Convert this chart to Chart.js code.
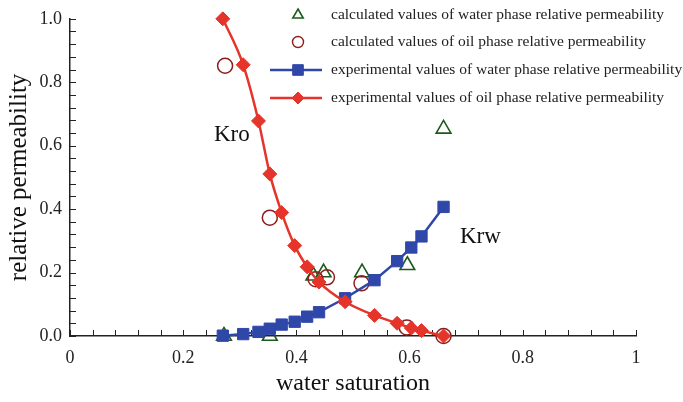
<!DOCTYPE html>
<html>
<head>
<meta charset="utf-8">
<script src="https://cdn.jsdelivr.net/npm/chart.js@4.4.1/dist/chart.umd.min.js"></script>
<style>
  html, body { margin: 0; padding: 0; background: #fff; }
  #wrap { width: 683px; height: 402px; position: relative; }
</style>
</head>
<body>
<div id="wrap"><canvas id="grafico" width="683" height="402"></canvas></div>
<script>
// --- DADOS ---
const expSw  = [0.270, 0.306, 0.333, 0.353, 0.374, 0.397, 0.419, 0.440, 0.486, 0.538, 0.578, 0.603, 0.621, 0.660];
const expKro = [1.000, 0.855, 0.678, 0.511, 0.389, 0.285, 0.218, 0.170, 0.108, 0.065, 0.040, 0.025, 0.017, 0.000];
const expKrw = [0.001, 0.006, 0.013, 0.023, 0.036, 0.045, 0.061, 0.075, 0.119, 0.176, 0.236, 0.279, 0.314, 0.407];

const calcWaterSw = [0.272, 0.353, 0.430, 0.448, 0.516, 0.596, 0.660];
const calcKrw     = [0.000, 0.000, 0.190, 0.200, 0.200, 0.223, 0.653];

const calcOilSw = [0.274, 0.353, 0.434, 0.454, 0.515, 0.595, 0.660];
const calcKro   = [0.852, 0.373, 0.179, 0.185, 0.166, 0.027, 0.000];

const xTicks = [0, 0.2, 0.4, 0.6, 0.8, 1];
const yTicks = [0, 0.2, 0.4, 0.6, 0.8, 1.0];

const legendLabels = [
    'calculated values of water phase relative permeability',
    'calculated values of oil phase relative permeability',
    'experimental values of water phase relative permeability',
    'experimental values of oil phase relative permeability'
];

const pares = (xs, ys) => xs.map((x, i) => ({ x, y: ys[i] }));

const SERIF = '"Liberation Serif", "DejaVu Serif", serif';
const RED = '#e5342a', BLUE = '#2f47a9', GREEN = '#1d5b1d', DARKRED = '#8e1d1d';
const isMajor = v => Math.abs(v * 5 - Math.round(v * 5)) < 1e-6;

// ticks para dentro + rótulos Kro/Krw
const eixosPlugin = {
    id: 'eixos',
    beforeDatasetsDraw(chart) {
        const { ctx, scales: { x, y } } = chart;
        ctx.save();
        ctx.strokeStyle = '#222';
        ctx.lineWidth = 1;
        x.ticks.forEach(t => {
            const px = Math.round(x.getPixelForValue(t.value)) + 0.5;
            ctx.beginPath(); ctx.moveTo(px, y.bottom); ctx.lineTo(px, y.bottom - 6); ctx.stroke();
        });
        y.ticks.forEach(t => {
            const py = Math.round(y.getPixelForValue(t.value)) + 0.5;
            ctx.beginPath(); ctx.moveTo(x.left, py); ctx.lineTo(x.left + 6, py); ctx.stroke();
        });
        ctx.fillStyle = '#111';
        ctx.font = '23px ' + SERIF;
        ctx.textAlign = 'center';
        ctx.textBaseline = 'middle';
        ctx.fillText('Kro', x.getPixelForValue(0.286), y.getPixelForValue(0.635));
        ctx.fillText('Krw', x.getPixelForValue(0.725), y.getPixelForValue(0.311));
        ctx.restore();
    }
};

// legenda desenhada à mão (linha + marcador)
const legendaPlugin = {
    id: 'legenda',
    afterDraw(chart) {
        const { ctx } = chart;
        const sx = 298, tx = 331, linhas = [15, 42, 70, 98];
        const estilos = [
            { line: null, style: 'triangle', r: 6, fill: 'rgba(0,0,0,0)', stroke: GREEN, bw: 1.6 },
            { line: null, style: 'circle', r: 5.5, fill: 'rgba(0,0,0,0)', stroke: DARKRED, bw: 1.4 },
            { line: BLUE, style: 'rect', r: 7.5, fill: BLUE, stroke: BLUE, bw: 1 },
            { line: RED, style: 'rectRot', r: 6, fill: RED, stroke: RED, bw: 1 }
        ];
        ctx.save();
        estilos.forEach((e, i) => {
            const yy = linhas[i];
            if (e.line) {
                ctx.strokeStyle = e.line; ctx.lineWidth = 2.5;
                ctx.beginPath(); ctx.moveTo(270, yy); ctx.lineTo(322, yy); ctx.stroke();
            }
            ctx.fillStyle = e.fill; ctx.strokeStyle = e.stroke; ctx.lineWidth = e.bw;
            Chart.helpers.drawPoint(ctx, { pointStyle: e.style, radius: e.r, borderWidth: e.bw, rotation: 0 }, sx, yy);
            ctx.fillStyle = '#222';
            ctx.font = '15.5px ' + SERIF;
            ctx.textAlign = 'left'; ctx.textBaseline = 'middle';
            ctx.fillText(legendLabels[i], tx, yy);
        });
        ctx.restore();
    }
};

new Chart(document.getElementById('grafico').getContext('2d'), {
    type: 'scatter',
    data: {
        datasets: [
            {
                label: legendLabels[3], data: pares(expSw, expKro), showLine: true, clip: false,
                borderColor: RED, borderWidth: 2.5, cubicInterpolationMode: 'monotone',
                pointStyle: 'rectRot', pointRadius: 7, pointBackgroundColor: RED, pointBorderColor: RED, pointBorderWidth: 1
            },
            {
                label: legendLabels[2], data: pares(expSw, expKrw), showLine: true, clip: false,
                borderColor: BLUE, borderWidth: 2.5, tension: 0,
                pointStyle: 'rect', pointRadius: 8, pointBackgroundColor: BLUE, pointBorderColor: BLUE, pointBorderWidth: 1
            },
            {
                label: legendLabels[1], data: pares(calcOilSw, calcKro), showLine: false, clip: false,
                pointStyle: 'circle', pointRadius: 7.5, pointBackgroundColor: 'rgba(0,0,0,0)',
                pointBorderColor: DARKRED, pointBorderWidth: 1.5
            },
            {
                label: legendLabels[0], data: pares(calcWaterSw, calcKrw), showLine: false, clip: false,
                pointStyle: 'triangle', pointRadius: 8.5, pointBackgroundColor: 'rgba(0,0,0,0)',
                pointBorderColor: GREEN, pointBorderWidth: 1.6
            }
        ]
    },
    options: {
        responsive: false,
        animation: false,
        layout: { padding: { top: 18, right: 47, left: 0, bottom: 0 } },
        plugins: { legend: { display: false }, tooltip: { enabled: false } },
        scales: {
            x: {
                type: 'linear', min: 0, max: 1,
                afterFit: s => { s.height = 66; },
                grid: { display: false, drawTicks: false },
                border: { display: true, color: '#222', width: 1.5 },
                ticks: {
                    stepSize: 0.04, autoSkip: false, maxRotation: 0, padding: 11,
                    color: '#222', font: { family: SERIF, size: 18 },
                    callback: v => isMajor(v) ? xTicks.find(t => Math.abs(t - v) < 1e-6).toString() : ''
                },
                title: { display: true, text: 'water saturation', color: '#111', font: { family: SERIF, size: 24 }, padding: { top: 4 } }
            },
            y: {
                type: 'linear', min: 0, max: 1,
                afterFit: s => { s.width = 70; },
                grid: { display: false, drawTicks: false },
                border: { display: true, color: '#222', width: 1.5 },
                ticks: {
                    stepSize: 0.04, autoSkip: false, padding: 8,
                    color: '#222', font: { family: SERIF, size: 18 },
                    callback: v => isMajor(v) ? yTicks.find(t => Math.abs(t - v) < 1e-6).toFixed(1) : ''
                },
                title: { display: true, text: 'relative permeability', color: '#111', font: { family: SERIF, size: 25 }, padding: { bottom: 0 } }
            }
        }
    },
    plugins: [eixosPlugin, legendaPlugin]
});
</script>
</body>
</html>
